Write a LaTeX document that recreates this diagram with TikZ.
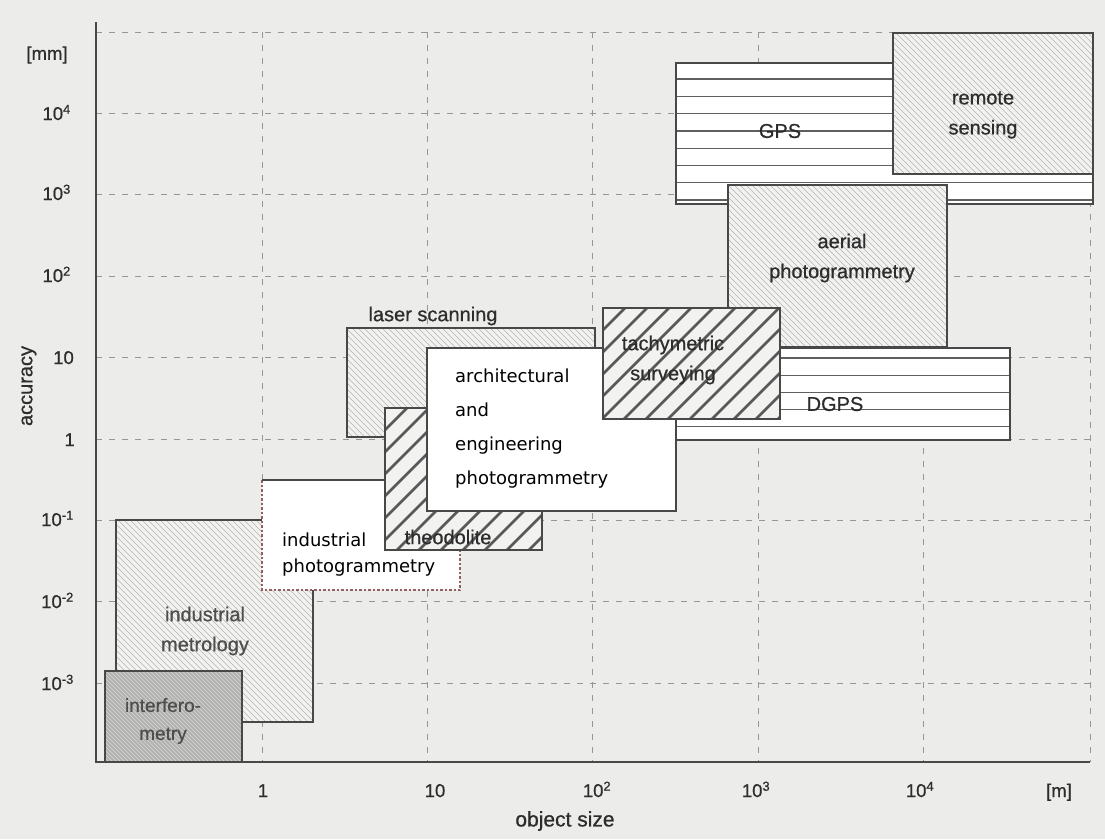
\documentclass[tikz,border=0pt]{standalone}
\usepackage{fontspec}
\setmainfont{Liberation Sans}
\newfontfamily\labelfont{Liberation Sans}[FakeBold=0.7]
\newfontfamily\screenfont{DejaVu Sans}

\definecolor{paper}{RGB}{236,236,234}
\definecolor{inkc}{RGB}{45,45,45}
\definecolor{softink}{RGB}{78,78,78}
\definecolor{edgec}{RGB}{72,72,72}
\definecolor{gridc}{RGB}{150,150,150}
\definecolor{lightfill}{RGB}{242,242,240}
\definecolor{hatchc}{RGB}{180,180,180}
\definecolor{darkfill}{RGB}{176,176,174}
\definecolor{darkhatch}{RGB}{206,206,204}
\definecolor{boldc}{RGB}{88,88,88}
\definecolor{stripec}{RGB}{95,95,95}
\definecolor{rimred}{RGB}{150,95,95}

% fine lines running from upper left to lower right inside a rectangle
\newcommand\hatchback[6]{%
  \begin{scope}
    \clip (#1,#2) rectangle (#3,#4);
    \pgfmathsetmacro\hatchH{#4-#2}
    \pgfmathsetmacro\hatchA{#1-\hatchH}
    \pgfmathsetmacro\hatchB{\hatchA+#5}
    \foreach \o in {\hatchA,\hatchB,...,#3} \draw[#6] (\o,#2) -- ++(\hatchH,\hatchH);
  \end{scope}}
% lines running from lower left to upper right inside a rectangle
\newcommand\hatchfwd[6]{%
  \begin{scope}
    \clip (#1,#2) rectangle (#3,#4);
    \pgfmathsetmacro\hatchH{#4-#2}
    \pgfmathsetmacro\hatchA{#1-\hatchH}
    \pgfmathsetmacro\hatchB{\hatchA+#5}
    \foreach \o in {\hatchA,\hatchB,...,#3} \draw[#6] (\o,#4) -- ++(\hatchH,-\hatchH);
  \end{scope}}

\tikzset{
  boxedge/.style={draw=edgec, line width=1.8pt},
  gridline/.style={draw=gridc, line width=1pt, dash pattern=on 6pt off 7pt},
  finehatch/.style={draw=hatchc, line width=0.65pt},
  densehatch/.style={draw=darkhatch, line width=0.8pt},
  boldhatch/.style={draw=boldc, line width=2.6pt},
  stripe/.style={draw=stripec, line width=1.3pt},
  axisline/.style={draw=edgec, line width=2.2pt},
  lbl/.style={text=inkc, font=\labelfont\fontsize{20}{30}\selectfont, align=center, inner sep=0pt},
  softlbl/.style={lbl, text=softink},
  tick/.style={text=inkc, font=\labelfont\fontsize{18.5}{20}\selectfont, inner sep=0pt},
  screenlbl/.style={text=black, inner sep=0pt, align=left},
}

\begin{document}
\begin{tikzpicture}[x=1pt,y=-1pt]
\useasboundingbox (0,0) rectangle (1105,839);
\fill[paper] (0,0) rectangle (1105,839);

% dashed grid, one line per decade
\foreach \gy in {32,113,194,276,357,439,520,601,683}
  \draw[gridline] (96,\gy) -- (1090,\gy);
\foreach \gx in {262,427,592,758,923,1090}
  \draw[gridline] (\gx,32) -- (\gx,762);

% GPS
\fill[white] (676,63) rectangle (1093,204);
\foreach \sy in {79,96.3,...,201} \draw[stripe] (676,\sy) -- (1093,\sy);
\draw[boxedge] (676,63) rectangle (1093,204);

% remote sensing
\fill[lightfill] (893,33) rectangle (1093,174);
\hatchback{893}{33}{1093}{174}{6}{finehatch}
\draw[boxedge] (893,33) rectangle (1093,174);

% aerial photogrammetry
\fill[lightfill] (728,185) rectangle (947,347);
\hatchback{728}{185}{947}{347}{6}{finehatch}
\draw[boxedge] (728,185) rectangle (947,347);

% DGPS
\fill[white] (675,348) rectangle (1010,440);
\foreach \sy in {358,375.2,...,428} \draw[stripe] (675,\sy) -- (1010,\sy);
\draw[boxedge] (675,348) rectangle (1010,440);

% laser scanning
\fill[lightfill] (347,328) rectangle (595,437);
\hatchback{347}{328}{595}{437}{6}{finehatch}
\draw[boxedge] (347,328) rectangle (595,437);

% industrial metrology
\fill[lightfill] (116,520) rectangle (313,722);
\hatchback{116}{520}{313}{722}{6}{finehatch}
\draw[boxedge] (116,520) rectangle (313,722);

% interferometry
\fill[darkfill] (105,671) rectangle (242,762);
\hatchback{105}{671}{242}{762}{4}{densehatch}
\draw[boxedge] (105,671) rectangle (242,762);

% industrial photogrammetry
\fill[white] (262,480) rectangle (460,590);
\draw[draw=rimred, line width=1.3pt, dash pattern=on 2.5pt off 2pt]
  (262,480) -- (262,590) -- (460,590) -- (460,480);
\draw[draw=edgec, line width=1.5pt] (262,480) -- (460,480);

% theodolite
\fill[lightfill] (385,408) rectangle (542,550);
\hatchfwd{385}{408}{542}{550}{22}{boldhatch}
\draw[boxedge] (385,408) rectangle (542,550);

% architectural and engineering photogrammetry
\fill[white] (427,348) rectangle (676,511);
\draw[draw=edgec, line width=1.3pt] (427,348) rectangle (676,511);

% tachymetric surveying
\fill[lightfill] (603,308) rectangle (780,419);
\hatchfwd{603}{308}{780}{419}{22}{boldhatch}
\draw[boxedge] (603,308) rectangle (780,419);

% axes
\draw[axisline] (96,22) -- (96,762) -- (1090,762);

% region labels
\node[lbl] (gps) at (780,131) {GPS};
\node[lbl] (remote) at (983,115) {remote\\sensing};
\node[lbl] (aerial) at (842,258) {aerial\\photogrammetry};
\node[lbl] (dgps) at (835,404) {DGPS};
\node[lbl] (tachy) at (673,360) {tachymetric\\surveying};
\node[lbl] (laser) at (433,316) {laser scanning};
\node[lbl] (theo) at (448,537) {theodolite};
\node[softlbl] (metro) at (205,631) {industrial\\metrology};
\node[softlbl, font=\labelfont\fontsize{19}{28}\selectfont] (interf) at (163,721) {interfero-\\metry};
\node[screenlbl, anchor=west, font=\screenfont\fontsize{18}{34}\selectfont] (arch) at (455,428.5)
  {architectural\\and\\engineering\\photogrammetry};
\node[screenlbl, anchor=west, font=\screenfont\fontsize{18}{26}\selectfont] (indphoto) at (282,555)
  {industrial\\photogrammetry};

% axis labels
\node[tick] (unitmm) at (47,55) {[mm]};
\node[tick, anchor=base east] (y4) at (71,120) {10\textsuperscript{4}};
\node[tick, anchor=base east] (y3) at (71,200) {10\textsuperscript{3}};
\node[tick, anchor=base east] (y2) at (71,282) {10\textsuperscript{2}};
\node[tick, anchor=base east] (y1) at (74,364) {10};
\node[tick, anchor=base east] (y0) at (75,446) {1};
\node[tick, anchor=base east] (ym1) at (74,526) {10\textsuperscript{-1}};
\node[tick, anchor=base east] (ym2) at (74,608) {10\textsuperscript{-2}};
\node[tick, anchor=base east] (ym3) at (74,690) {10\textsuperscript{-3}};
\node[lbl, rotate=90] (acc) at (29,386) {accuracy};

\node[tick, anchor=base] (x0) at (263,797) {1};
\node[tick, anchor=base] (x1) at (435,797) {10};
\node[tick, anchor=base] (x2) at (597,797) {10\textsuperscript{2}};
\node[tick, anchor=base] (x3) at (756,797) {10\textsuperscript{3}};
\node[tick, anchor=base] (x4) at (920,797) {10\textsuperscript{4}};
\node[tick, anchor=base] (unitm) at (1059,797) {[m]};
\node[lbl, font=\labelfont\fontsize{21}{24}\selectfont] (objsize) at (565,821) {object size};
\end{tikzpicture}
\end{document}
